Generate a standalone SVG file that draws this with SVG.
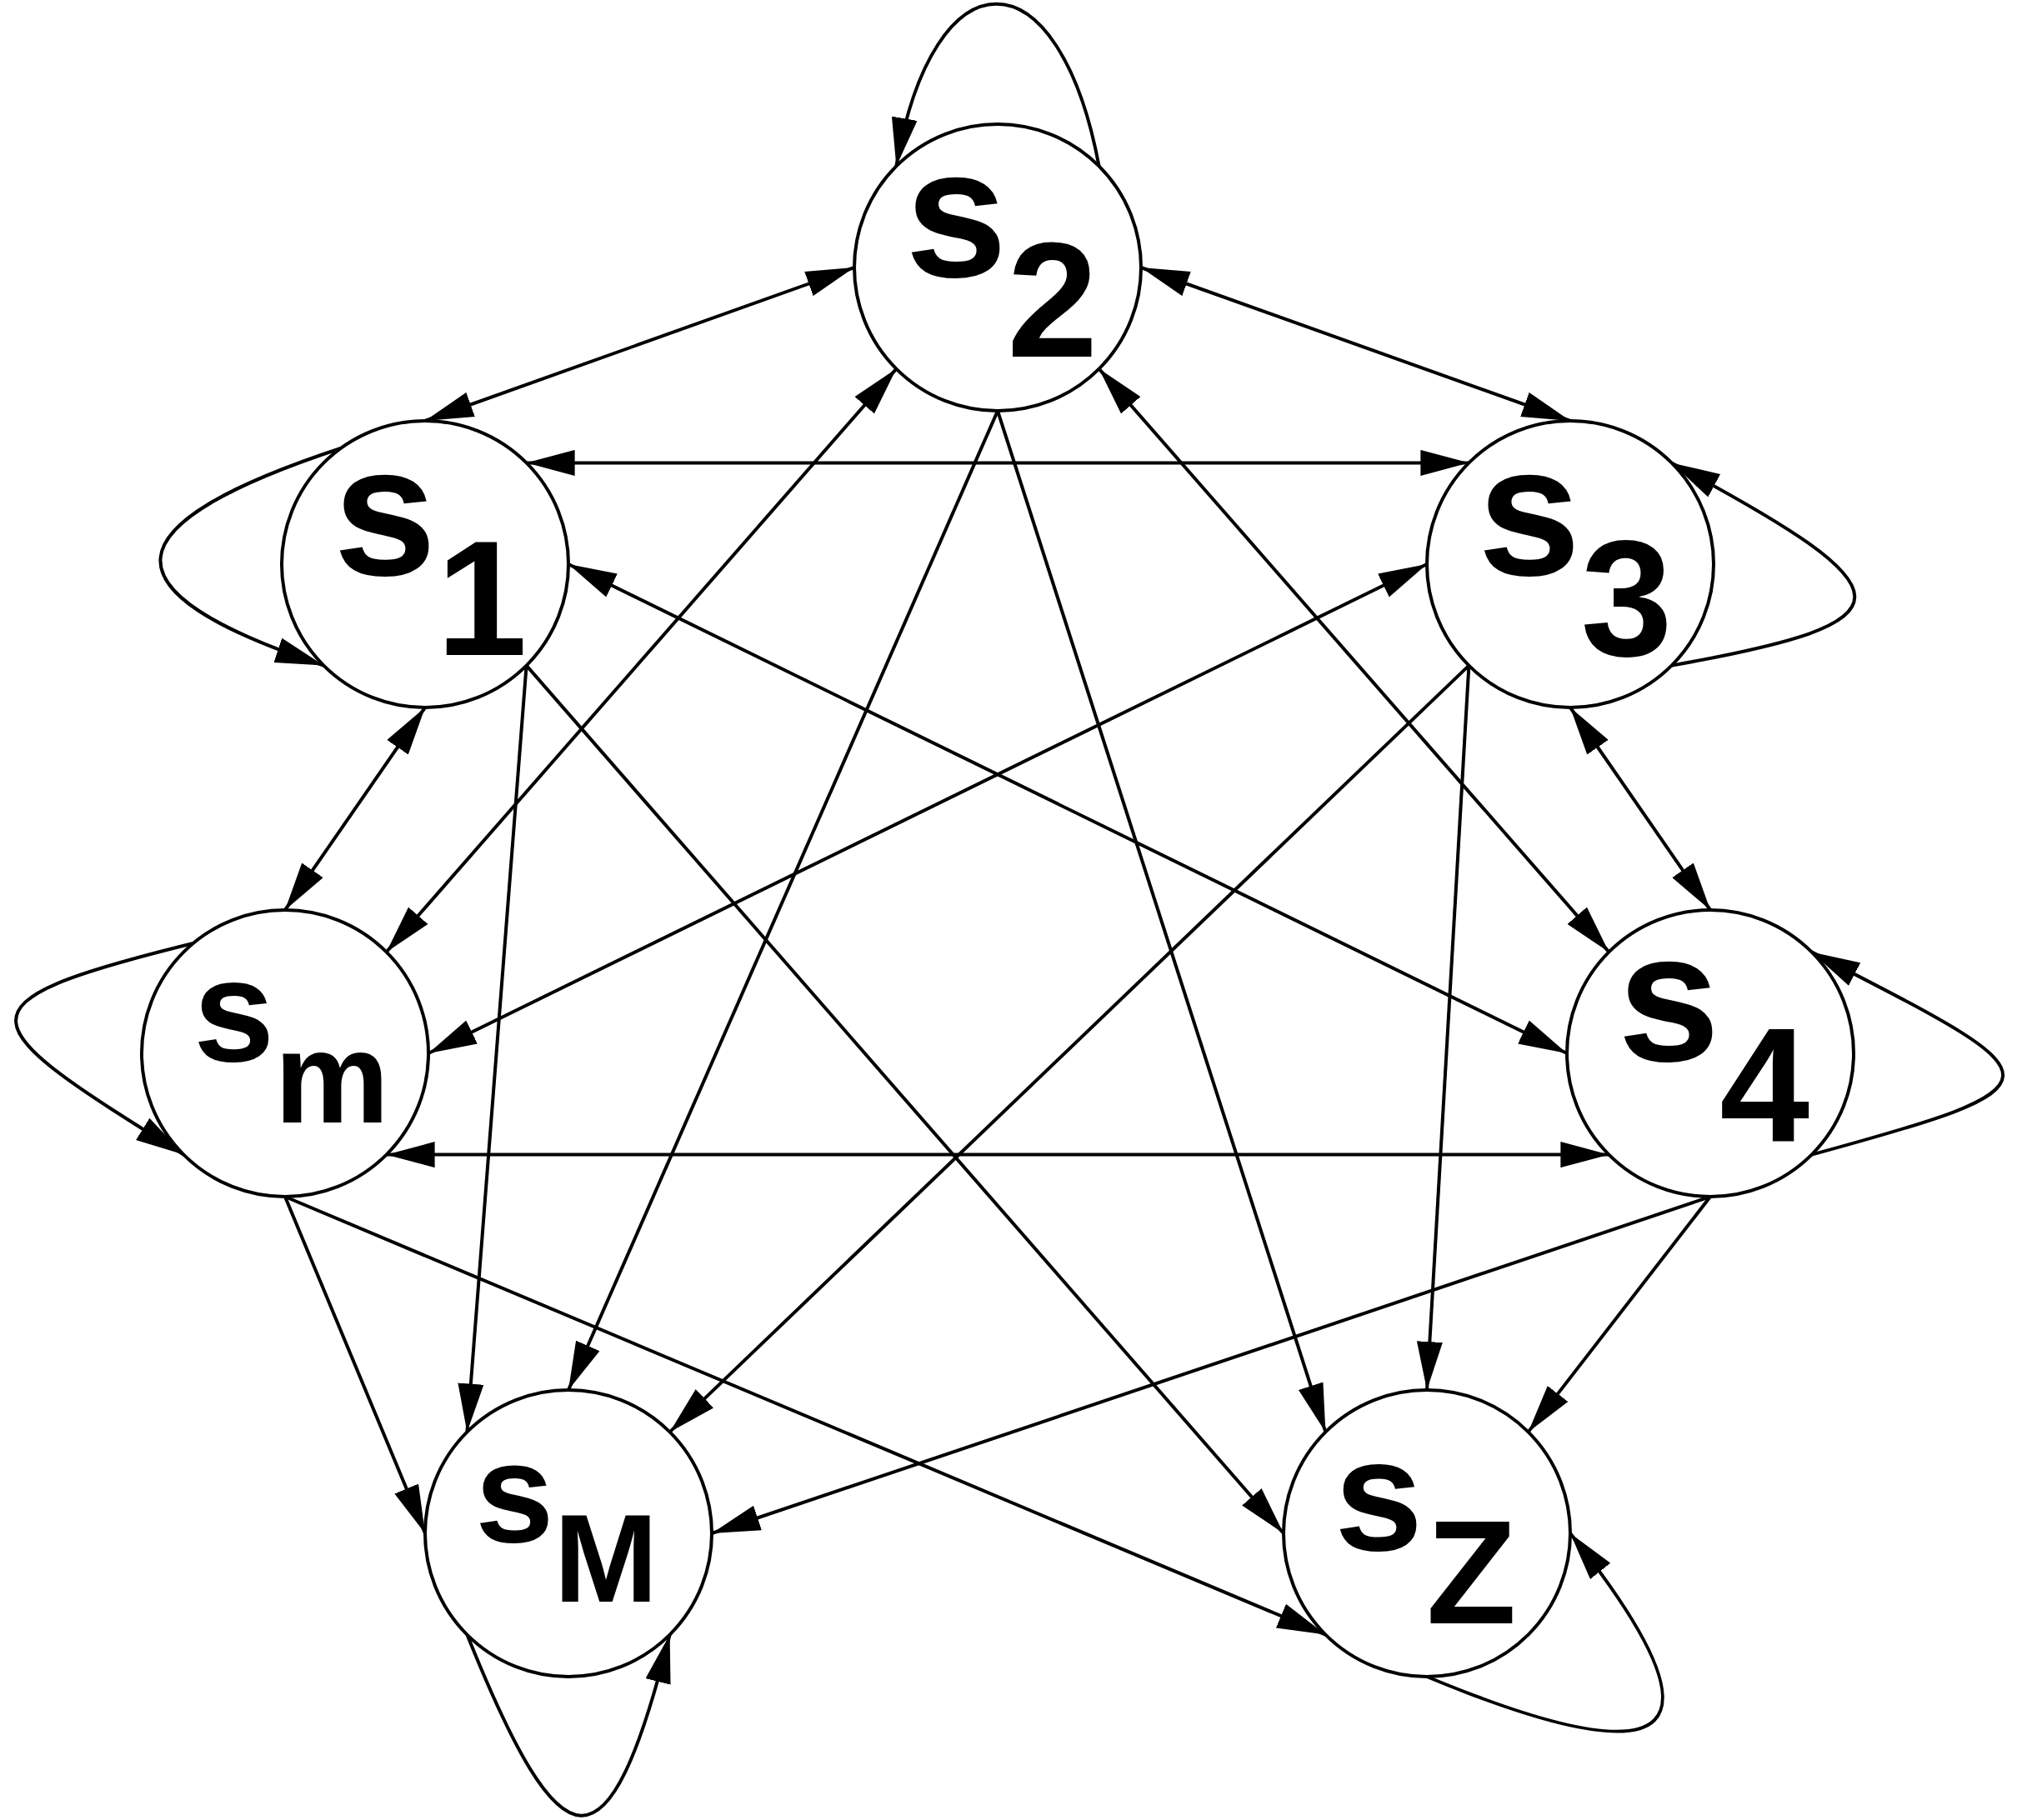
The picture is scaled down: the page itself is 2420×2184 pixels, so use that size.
<svg xmlns="http://www.w3.org/2000/svg" width="2420" height="2184" viewBox="0 0 2420 2184">
<style>
.bg{fill:#fff}
.e{fill:none;stroke:#000;stroke-width:4}
.u{marker-end:url(#arr)}
.b{marker-start:url(#arr);marker-end:url(#arr)}
.n{fill:#fff;stroke:#000;stroke-width:4}
.t{font-family:"Liberation Sans",Arial,Helvetica,sans-serif;font-weight:bold;fill:#000}
</style>
<defs>
<marker id="arr" viewBox="0 0 58 31" refX="58" refY="15.5" markerWidth="58" markerHeight="31" markerUnits="userSpaceOnUse" orient="auto-start-reverse"><path d="M0,0 L58,15.5 L0,31 z" fill="#000"/></marker>
</defs>
<rect class="bg" x="0" y="0" width="2420" height="2184"/>
<g id="connectors">
<line class="e b" x1="510" y1="505" x2="1025" y2="321"/>
<line class="e b" x1="1369" y1="321" x2="1884" y2="505"/>
<line class="e b" x1="631.6" y1="555.4" x2="1762.4" y2="555.4"/>
<line class="e b" x1="510" y1="849" x2="342" y2="1092"/>
<line class="e b" x1="1884" y1="849" x2="2052" y2="1092"/>
<line class="e b" x1="463.6" y1="1385.6" x2="1930.4" y2="1385.6"/>
<line class="e b" x1="1075.4" y1="442.6" x2="463.6" y2="1142.4"/>
<line class="e b" x1="1318.6" y1="442.6" x2="1930.4" y2="1142.4"/>
<line class="e b" x1="682" y1="677" x2="1880" y2="1264"/>
<line class="e b" x1="1712" y1="677" x2="514" y2="1264"/>
<line class="e u" x1="1197" y1="493" x2="682" y2="1668"/>
<line class="e u" x1="1197" y1="493" x2="1590.4" y2="1718.4"/>
<line class="e u" x1="631.6" y1="798.6" x2="560.4" y2="1718.4"/>
<line class="e u" x1="631.6" y1="798.6" x2="1540" y2="1840"/>
<line class="e u" x1="1762.4" y1="798.6" x2="803.6" y2="1718.4"/>
<line class="e u" x1="1762.4" y1="798.6" x2="1712" y2="1668"/>
<line class="e u" x1="342" y1="1436" x2="510" y2="1840"/>
<line class="e u" x1="342" y1="1436" x2="1590.4" y2="1961.6"/>
<line class="e u" x1="2052" y1="1436" x2="854" y2="1840"/>
<line class="e u" x1="2052" y1="1436" x2="1833.6" y2="1718.4"/>
<path class="e u" d="M1318.6,199.4 C1270,-60 1120,-60 1075.4,199.4"/>
<path class="e u" d="M408.7,538 C130,630 118,709 388.4,798.6"/>
<path class="e u" d="M2005.6,798.6 C2301,746 2296,711 2005.6,555.4"/>
<path class="e u" d="M231.7,1132 C-65,1205 -34.6,1226.6 220.4,1385.6"/>
<path class="e u" d="M2173.6,1385.6 C2492,1299 2467,1294 2173.6,1142.4"/>
<path class="e u" d="M560.4,1961.6 C674.2,2244.6 729.5,2257.5 803.6,1961.6"/>
<path class="e u" d="M1712,2012 C2020,2140 2075,2080 1884,1840"/>
</g>
<g id="s2"><circle class="n" cx="1197" cy="321" r="172"/><text class="t" x="1086" y="332" font-size="220">s<tspan font-size="196" y="428">2</tspan></text></g>
<g id="s1"><circle class="n" cx="510" cy="677" r="172"/><text class="t" x="400" y="690" font-size="222">s<tspan font-size="196" y="786">1</tspan></text></g>
<g id="s3"><circle class="n" cx="1884" cy="677" r="172"/><text class="t" x="1773" y="690" font-size="222">s<tspan font-size="198" y="787">3</tspan></text></g>
<g id="sm"><circle class="n" cx="342" cy="1264" r="172"/><text class="t" x="232" y="1273" font-size="175">s<tspan font-size="155" y="1347">m</tspan></text></g>
<g id="s4"><circle class="n" cx="2052" cy="1264" r="172"/><text class="t" x="1941" y="1273" font-size="220">s<tspan font-size="194" y="1369">4</tspan></text></g>
<g id="sM"><circle class="n" cx="682" cy="1840" r="172"/><text class="t" x="570" y="1850" font-size="170">s<tspan font-size="150" y="1922">M</tspan></text></g>
<g id="sZ"><circle class="n" cx="1712" cy="1840" r="172"/><text class="t" x="1601" y="1860" font-size="191">s<tspan font-size="177" y="1948" dx="4">Z</tspan></text></g>
</svg>
